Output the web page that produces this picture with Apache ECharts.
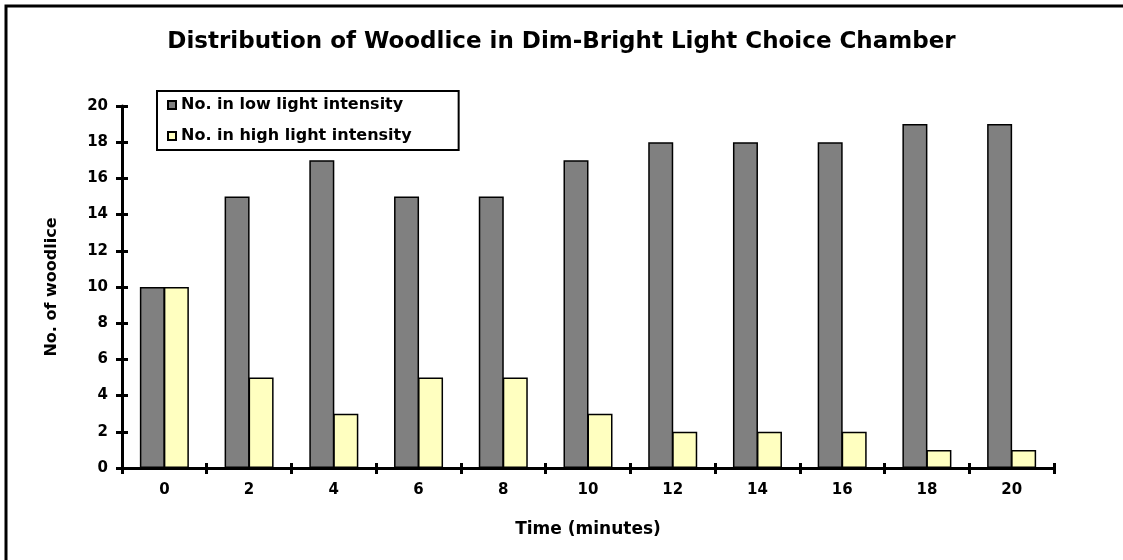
<!DOCTYPE html>
<html>
<head>
<meta charset="utf-8">
<script src="https://cdn.jsdelivr.net/npm/echarts@6/dist/echarts.min.js"></script>
<style>html,body{margin:0;padding:0;background:#fff;}#c{width:1123px;height:560px;}</style>
</head>
<body>
<div id="c"></div>
<script>
const categories = ['0','2','4','6','8','10','12','14','16','18','20'];
const lowLight = [10,15,17,15,15,17,18,18,18,19,19];
const highLight = [10,5,3,5,5,3,2,2,2,1,1];
const seriesNames = ['No. in low light intensity','No. in high light intensity'];

const F = 'DejaVu Sans';
const chart = echarts.init(document.getElementById('c'));
const axisLine = {show:true, lineStyle:{color:'#000', width:3}};
chart.setOption({
  animation:false,
  backgroundColor:'#fff',
  title:{text:'Distribution of Woodlice in Dim-Bright Light Choice Chamber', left:'center', top:26,
    textStyle:{fontFamily:F, fontWeight:'bold', fontSize:23, color:'#000'}},
  graphic:[{type:'rect', shape:{x:6, y:6, width:1140, height:580}, style:{fill:null, stroke:'#000', lineWidth:3}, silent:true}],
  legend:{orient:'vertical', left:157, top:91, itemWidth:8, itemHeight:8, itemGap:15,
    padding:[6,47,6,10], borderColor:'#000', borderWidth:2, backgroundColor:'#fff',
    icon:'rect', textStyle:{fontFamily:F, fontWeight:'bold', fontSize:16, color:'#000'},
    data:seriesNames},
  grid:{left:122, right:69, top:106, bottom:92},
  xAxis:[{type:'category', data:categories, name:'Time (minutes)', nameLocation:'middle', nameGap:53,
    nameTextStyle:{fontFamily:F, fontWeight:'bold', fontSize:17, color:'#000'},
    axisLine:axisLine, axisTick:{show:true, length:6, lineStyle:{color:'#000', width:3}},
    axisLabel:{fontFamily:F, fontWeight:'bold', fontSize:15, color:'#000', margin:15}},
   {type:'category', data:categories, position:'bottom', axisLine:{show:false},
    axisTick:{show:true, inside:true, length:5, lineStyle:{color:'#000', width:3}}, axisLabel:{show:false}}],
  yAxis:[{type:'value', min:0, max:20, interval:2, name:'No. of woodlice', nameLocation:'middle', nameGap:62,
    nameTextStyle:{fontFamily:F, fontWeight:'bold', fontSize:16, color:'#000'},
    axisLine:axisLine, axisTick:{show:true, length:6, lineStyle:{color:'#000', width:3}},
    splitLine:{show:false},
    axisLabel:{fontFamily:F, fontWeight:'bold', fontSize:15, color:'#000', margin:14}},
   {type:'value', min:0, max:20, interval:2, position:'left', axisLine:{show:false},
    axisTick:{show:true, inside:true, length:6, lineStyle:{color:'#000', width:3}},
    splitLine:{show:false}, axisLabel:{show:false}}],
  series:[
    {name:seriesNames[0], type:'bar', data:lowLight, barWidth:25, barGap:'-4%',
     itemStyle:{color:'#808080', borderColor:'#000', borderWidth:1.5}},
    {name:seriesNames[1], type:'bar', data:highLight, barWidth:25, barGap:'-4%',
     itemStyle:{color:'#ffffc0', borderColor:'#000', borderWidth:1.5}}
  ]
});
</script>
</body>
</html>
